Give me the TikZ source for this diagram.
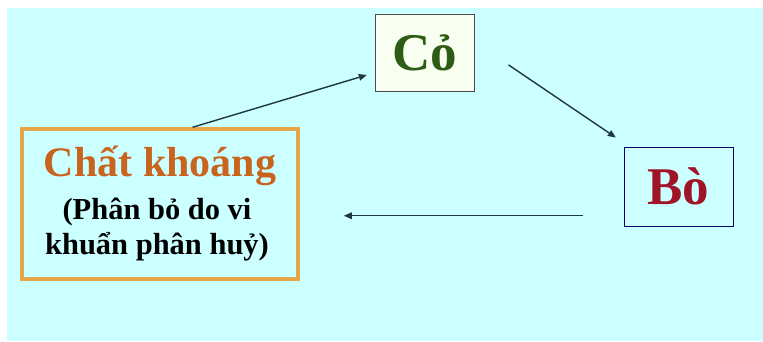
\documentclass[tikz,border=0pt]{standalone}
\usepackage{fontspec}
\setmainfont{Liberation Serif}
\usetikzlibrary{arrows.meta}
\definecolor{bgcyan}{RGB}{204,255,255}
\definecolor{grassgreen}{RGB}{46,92,22}
\definecolor{cowred}{RGB}{160,20,40}
\definecolor{mineralorange}{RGB}{200,100,30}
\definecolor{frameorange}{RGB}{230,165,70}
\definecolor{arrowgray}{RGB}{30,55,65}
\definecolor{paleleaf}{RGB}{248,255,240}
\begin{document}
\begin{tikzpicture}[x=1pt,y=-1pt,
    box/.style={draw,rectangle,inner sep=0pt},
    flow/.style={draw=arrowgray,line width=1.4pt,-{Triangle[length=8pt,width=6.5pt]}} ]
    \useasboundingbox (0,0) rectangle (763,341);
    \fill [bgcyan] (7,8) rectangle (763,341);
    \node at (424.5,52.5) [box,draw=black!70,fill=paleleaf,line width=1pt,
      minimum width=99pt,minimum height=77pt] (co) {};
    \node at (678.5,186.5) [box,draw=blue!40!black,line width=1pt,
      minimum width=109pt,minimum height=79pt] (bo) {};
    \node at (160,204) [box,draw=frameorange,line width=3.5pt,
      minimum width=276pt,minimum height=150pt] (chat) {};
    \node at (co.center) [text=grassgreen,font=\bfseries\fontsize{53}{53}\selectfont] (colabel) {Cỏ};
    \node at (bo.center) [text=cowred,font=\bfseries\fontsize{53}{53}\selectfont] (bolabel) {Bò};
    \node at (160,166) [text=mineralorange,font=\bfseries\fontsize{42}{42}\selectfont] (chatlabel) {Chất khoáng};
    \node at (157,230) [align=center,font=\bfseries\fontsize{30.5}{35}\selectfont] (note) {(Phân bỏ do vi\\khuẩn phân huỷ)};
    \draw [flow,shorten >=8pt] (chat.67) to (co.202);
    \draw [flow,shorten <=41pt,shorten >=16pt] (co.12) to (bo.141);
    \draw [flow,shorten <=41pt,shorten >=44pt] (bo.208) to (bo.208 -| chat.east);
\end{tikzpicture}
\end{document}
